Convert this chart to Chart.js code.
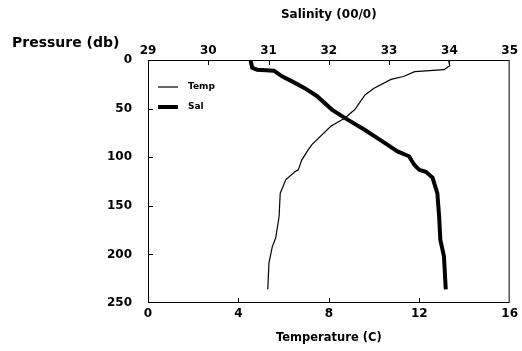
<!DOCTYPE html>
<html>
<head>
<meta charset="utf-8">
<script src="https://cdn.jsdelivr.net/npm/chart.js@4/dist/chart.umd.min.js"></script>
<style>
  body { margin: 0; background: #fff; }
  canvas { display: block; }
</style>
</head>
<body>
<canvas id="profileChart" width="522" height="351"></canvas>
<script>
// temperature profile (C) vs pressure (db)
const tempPressure = [0, 6, 10, 12, 17, 20, 29, 36, 51, 60, 68, 87, 92, 103, 113, 115, 123, 137, 161, 183, 192, 209, 236];
const tempValues = [13.3, 13.35, 13.1, 11.8, 11.3, 10.75, 10.0, 9.6, 9.15, 8.7, 8.1, 7.25, 7.1, 6.8, 6.65, 6.5, 6.1, 5.85, 5.8, 5.65, 5.5, 5.35, 5.3];

// salinity profile (00/0) vs pressure (db)
const salPressure = [0, 8, 10, 11, 17, 22, 29, 37, 51, 59, 72, 85, 94, 99, 108, 113, 115, 121, 137, 161, 185, 202, 236];
const salValues = [30.7, 30.73, 30.81, 31.09, 31.23, 31.39, 31.6, 31.8, 32.05, 32.25, 32.6, 32.92, 33.14, 33.33, 33.42, 33.5, 33.61, 33.72, 33.8, 33.83, 33.85, 33.91, 33.94];

const pressureTicks = [0, 50, 100, 150, 200, 250];
const tempTicks = [0, 4, 8, 12, 16];
const salTicks = [29, 30, 31, 32, 33, 34, 35];

const FONT = "'DejaVu Sans', sans-serif";

function toPoints(xs, ys) {
  return xs.map((x, i) => ({ x: x, y: ys[i] }));
}

// frame, inward tick marks, legend and y title
const framePlugin = {
  id: "frame",
  afterDraw(chart) {
    const ctx = chart.ctx;
    const a = chart.chartArea;
    const s = chart.scales;
    ctx.save();
    ctx.strokeStyle = "#000";
    ctx.lineWidth = 1;
    ctx.strokeRect(a.left + 0.5, a.top + 0.5, a.right - a.left - 1, a.bottom - a.top - 1);

    const len = 5;
    ctx.beginPath();
    pressureTicks.slice(1, -1).forEach((v) => {
      const y = Math.round(s.y.getPixelForValue(v)) + 0.5;
      ctx.moveTo(a.left, y);
      ctx.lineTo(a.left + len, y);
    });
    tempTicks.slice(1, -1).forEach((v) => {
      const x = Math.round(s.x.getPixelForValue(v)) + 0.5;
      ctx.moveTo(x, a.bottom);
      ctx.lineTo(x, a.bottom - len);
    });
    salTicks.slice(1, -1).forEach((v) => {
      const x = Math.round(s.x2.getPixelForValue(v)) + 0.5;
      ctx.moveTo(x, a.top);
      ctx.lineTo(x, a.top + len);
    });
    ctx.stroke();

    // legend
    ctx.fillStyle = "#000";
    ctx.font = "bold 9px " + FONT;
    ctx.textBaseline = "middle";
    chart.data.datasets.forEach((ds, i) => {
      const y = a.top + 27 + i * 20;
      ctx.lineWidth = ds.borderWidth;
      ctx.beginPath();
      ctx.moveTo(a.left + 10, y);
      ctx.lineTo(a.left + 30, y);
      ctx.stroke();
      ctx.fillText(ds.label, a.left + 40, y);
    });

    // y axis title
    ctx.font = "bold 14px " + FONT;
    ctx.textAlign = "left";
    ctx.fillText("Pressure (db)", 12, 43);
    ctx.restore();
  }
};

const tickFont = { family: FONT, size: 12, weight: "bold" };

new Chart(document.getElementById("profileChart"), {
  type: "scatter",
  data: {
    datasets: [
      {
        label: "Temp",
        data: toPoints(tempValues, tempPressure),
        xAxisID: "x",
        showLine: true,
        borderColor: "#000",
        borderWidth: 1.2,
        pointRadius: 0,
        tension: 0
      },
      {
        label: "Sal",
        data: toPoints(salValues, salPressure),
        xAxisID: "x2",
        showLine: true,
        borderColor: "#000",
        borderWidth: 4,
        pointRadius: 0,
        tension: 0
      }
    ]
  },
  options: {
    responsive: false,
    animation: false,
    layout: { padding: { left: 0, right: 9, top: 0, bottom: 0 } },
    plugins: {
      legend: { display: false },
      tooltip: { enabled: false }
    },
    scales: {
      x: {
        type: "linear",
        position: "bottom",
        min: 0,
        max: 16,
        afterBuildTicks: (sc) => { sc.ticks = tempTicks.map((v) => ({ value: v })); },
        afterFit: (sc) => { sc.height = 48; },
        grid: { display: false, drawTicks: false },
        border: { display: false },
        ticks: { color: "#000", font: tickFont, padding: 4, maxRotation: 0 },
        title: {
          display: true,
          text: "Temperature (C)",
          color: "#000",
          font: { family: FONT, size: 11.5, weight: "bold" },
          padding: { top: 0, bottom: 6 }
        }
      },
      x2: {
        type: "linear",
        position: "top",
        min: 29,
        max: 35,
        afterBuildTicks: (sc) => { sc.ticks = salTicks.map((v) => ({ value: v })); },
        afterFit: (sc) => { sc.height = 60; },
        grid: { display: false, drawTicks: false },
        border: { display: false },
        ticks: { color: "#000", font: tickFont, padding: 2, maxRotation: 0 },
        title: {
          display: true,
          text: "Salinity (00/0)",
          color: "#000",
          font: { family: FONT, size: 12, weight: "bold" },
          padding: { top: 8, bottom: 0 }
        }
      },
      y: {
        type: "linear",
        reverse: true,
        min: 0,
        max: 250,
        afterBuildTicks: (sc) => { sc.ticks = pressureTicks.map((v) => ({ value: v })); },
        afterFit: (sc) => { sc.width = 148; },
        grid: { display: false, drawTicks: false },
        border: { display: false },
        ticks: { color: "#000", font: tickFont, padding: 16 }
      }
    }
  },
  plugins: [framePlugin]
});
</script>
</body>
</html>
